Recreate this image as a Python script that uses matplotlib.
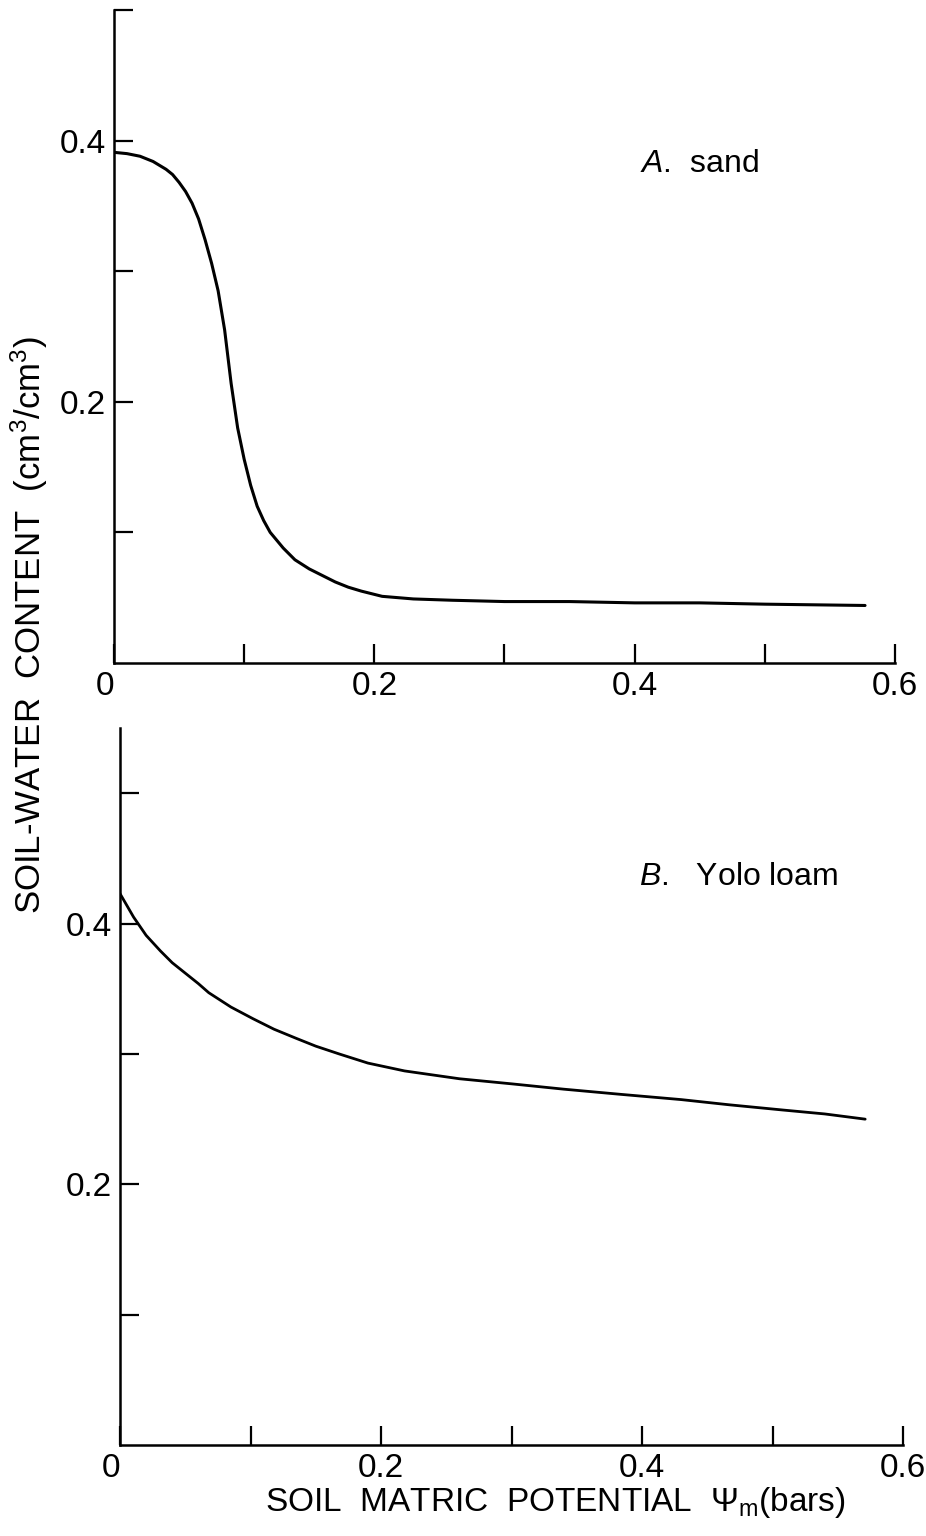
import matplotlib.pyplot as plt
from matplotlib.ticker import FixedLocator

# krzywa A - piasek (odczyt z wykresu)
sand_psi = [0.0, 0.01, 0.02, 0.03, 0.04, 0.045, 0.05, 0.055, 0.06, 0.065, 0.07, 0.075, 0.08, 0.085,
            0.09, 0.095, 0.1, 0.105, 0.11, 0.115, 0.12, 0.13, 0.139, 0.15, 0.16, 0.17, 0.18,
            0.19, 0.206, 0.23, 0.26, 0.3, 0.35, 0.4, 0.45, 0.5, 0.577]
sand_theta = [0.391, 0.390, 0.388, 0.384, 0.378, 0.374, 0.368, 0.361, 0.352, 0.340, 0.324, 0.306, 0.285, 0.255,
              0.214, 0.180, 0.156, 0.136, 0.120, 0.109, 0.100, 0.088, 0.079, 0.072, 0.067, 0.062, 0.058,
              0.055, 0.051, 0.049, 0.048, 0.047, 0.047, 0.046, 0.046, 0.045, 0.044]

# krzywa B - Yolo loam
loam_psi = [0.0, 0.0104, 0.02, 0.031, 0.04, 0.05, 0.06, 0.068, 0.085, 0.102, 0.118, 0.135, 0.15,
            0.168, 0.19, 0.218, 0.26, 0.301, 0.34, 0.384, 0.43, 0.467, 0.508, 0.54, 0.571]
loam_theta = [0.423, 0.405, 0.391, 0.379, 0.370, 0.362, 0.354, 0.347, 0.336, 0.327, 0.319, 0.312, 0.306,
              0.300, 0.293, 0.287, 0.281, 0.277, 0.273, 0.269, 0.265, 0.261, 0.257, 0.254, 0.250]

x_ticklabels = ['0', '0.2', '0.4', '0.6']
y_ticklabels = ['0.2', '0.4']

plt.rcParams['font.family'] = ['Liberation Sans', 'DejaVu Sans']
plt.rcParams['mathtext.fontset'] = 'custom'
plt.rcParams['mathtext.rm'] = 'Liberation Sans'
plt.rcParams['mathtext.it'] = 'Liberation Sans:italic'

fig = plt.figure(figsize=(9.26, 15.36), dpi=100)
ax1 = fig.add_axes([0.1231, 0.5684, 0.8434, 0.4251])
ax2 = fig.add_axes([0.1296, 0.0592, 0.8456, 0.4668])

ax1.plot(sand_psi, sand_theta, color='black', lw=2.2, solid_capstyle='round', solid_joinstyle='round')
ax2.plot(loam_psi, loam_theta, color='black', lw=2.0, solid_capstyle='round', solid_joinstyle='round')

for ax, ytop in [(ax1, 0.5), (ax2, 0.55)]:
    ax.set_xlim(0, 0.6)
    ax.set_ylim(0, ytop)
    for s in ['top', 'right']:
        ax.spines[s].set_visible(False)
    for s in ['left', 'bottom']:
        ax.spines[s].set_linewidth(1.8)
    ax.xaxis.set_major_locator(FixedLocator([0, 0.2, 0.4, 0.6]))
    ax.xaxis.set_minor_locator(FixedLocator([0.1, 0.3, 0.5]))
    ax.set_xticklabels(x_ticklabels)
    ax.yaxis.set_major_locator(FixedLocator([0.2, 0.4]))
    ax.yaxis.set_minor_locator(FixedLocator([0.1, 0.3, 0.5]))
    ax.set_yticklabels(y_ticklabels)
    ax.tick_params(which='both', direction='in', length=14, width=1.6, labelsize=24, pad=6)
    ax.xaxis.get_majorticklabels()[0].set_horizontalalignment('right')

ax1.text(0.404, 0.382, r'$\it{A}$.  sand', fontsize=23, ha='left', va='center')
ax2.text(0.398, 0.436, r'$\it{B}$.   Yolo loam', fontsize=23, ha='left', va='center')

fig.text(0.032, 0.593, r'SOIL-WATER  CONTENT  (cm$^3$/cm$^3$)', rotation=90,
         fontsize=25, ha='center', va='center')
fig.text(0.6, 0.0215, r'SOIL  MATRIC  POTENTIAL  $\Psi_{\rm m}$(bars)',
         fontsize=24, ha='center', va='center')

fig.savefig('out.png', dpi=100)
